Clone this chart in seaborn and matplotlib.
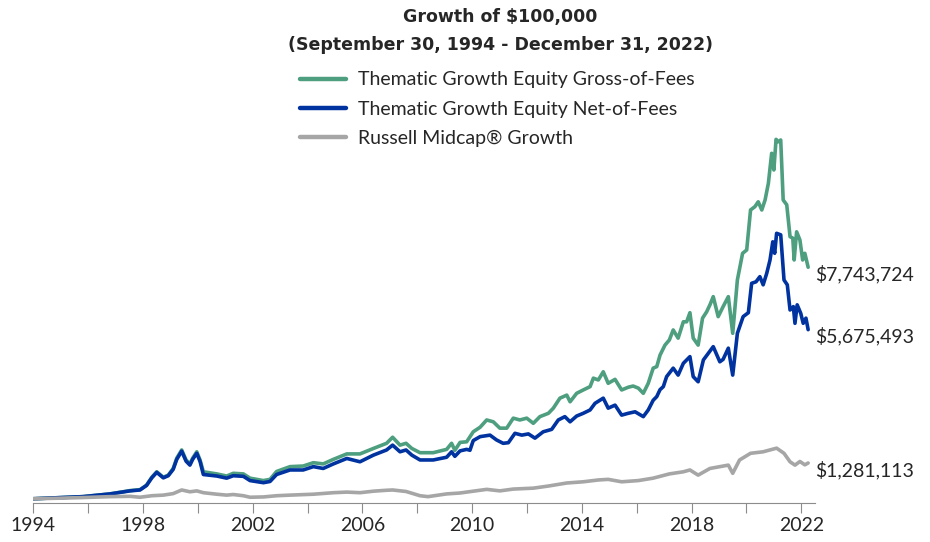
"""Growth of $100,000 chart: thematic growth equity vs Russell Midcap Growth"""

import pandas as pd
import matplotlib
matplotlib.use("Agg")
import matplotlib.pyplot as plt
import seaborn as sns

#####################################################################
# data (decimal year, value in $ millions)

gross_years = [1994.75, 1996.56, 1997.55, 1998.28, 1998.64, 1998.88, 1999.07, 1999.25, 1999.49, 1999.67,
               1999.85, 1999.98, 2000.16, 2000.32, 2000.46, 2000.56, 2000.71, 2000.83, 2000.95, 2001.44,
               2001.80, 2002.04, 2002.41, 2002.65, 2003.14, 2003.38, 2003.62, 2004.11, 2004.59, 2004.96,
               2005.32, 2005.69, 2006.18, 2006.66, 2007.15, 2007.63, 2007.85, 2008.12, 2008.34, 2008.55,
               2008.85, 2009.33, 2009.82, 2010.00, 2010.12, 2010.31, 2010.55, 2010.79, 2011.04, 2011.28,
               2011.52, 2011.76, 2012.01, 2012.25, 2012.49, 2012.74, 2012.98, 2013.22, 2013.53, 2013.71,
               2013.95, 2014.20, 2014.32, 2014.56, 2014.80, 2015.05, 2015.17, 2015.35, 2015.53, 2015.71,
               2015.96, 2016.20, 2016.44, 2016.62, 2016.81, 2016.99, 2017.17, 2017.35, 2017.48, 2017.60,
               2017.78, 2017.94, 2018.08, 2018.26, 2018.45, 2018.57, 2018.69, 2018.81, 2018.99, 2019.15,
               2019.30, 2019.42, 2019.54, 2019.72, 2019.90, 2020.09, 2020.25, 2020.42, 2020.61, 2020.76,
               2020.90, 2021.06, 2021.18, 2021.31, 2021.43, 2021.55, 2021.67, 2021.75, 2021.83, 2021.91,
               2022.00, 2022.09, 2022.22, 2022.34, 2022.44, 2022.49, 2022.58, 2022.70, 2022.80, 2022.88,
               2023.00]
gross_values = [0.10, 0.17, 0.26, 0.37, 0.40, 0.55, 0.81, 0.99, 0.81, 0.88,
                1.10, 1.44, 1.71, 1.38, 1.25, 1.44, 1.65, 1.38, 0.99, 0.92,
                0.85, 0.94, 0.92, 0.78, 0.70, 0.74, 1.00, 1.16, 1.18, 1.29,
                1.25, 1.40, 1.58, 1.58, 1.76, 1.93, 2.13, 1.87, 1.93, 1.76,
                1.62, 1.62, 1.73, 1.93, 1.70, 1.96, 1.98, 2.31, 2.46, 2.70,
                2.64, 2.43, 2.43, 2.76, 2.70, 2.76, 2.59, 2.81, 2.92, 3.09,
                3.42, 3.52, 3.30, 3.58, 3.69, 3.80, 4.08, 4.02, 4.29, 3.91,
                4.04, 3.69, 3.78, 3.82, 3.75, 3.58, 3.91, 4.41, 4.46, 4.84,
                5.17, 5.34, 5.67, 5.40, 5.94, 5.94, 6.24, 5.40, 5.17, 6.06,
                6.27, 6.50, 6.77, 6.11, 6.44, 6.77, 5.56, 7.32, 8.20, 8.31,
                9.63, 9.74, 9.90, 9.63, 9.96, 10.51, 11.50, 10.95, 11.96, 11.88,
                11.94, 9.96, 9.80, 8.75, 8.70, 7.98, 8.91, 8.64, 7.98, 8.20,
                7.74]

net_years = [1994.75, 1996.56, 1997.55, 1998.28, 1998.64, 1998.88, 1999.07, 1999.25, 1999.49, 1999.67,
             1999.85, 1999.98, 2000.16, 2000.32, 2000.46, 2000.56, 2000.71, 2000.83, 2000.95, 2001.44,
             2001.80, 2002.04, 2002.41, 2002.65, 2003.14, 2003.38, 2003.62, 2004.11, 2004.59, 2004.96,
             2005.32, 2005.69, 2006.18, 2006.66, 2007.15, 2007.63, 2007.85, 2008.12, 2008.34, 2008.55,
             2008.85, 2009.33, 2009.82, 2010.00, 2010.12, 2010.31, 2010.55, 2010.67, 2010.79, 2011.04,
             2011.40, 2011.64, 2011.88, 2012.07, 2012.31, 2012.56, 2012.80, 2013.04, 2013.34, 2013.65,
             2013.89, 2014.13, 2014.32, 2014.56, 2014.80, 2015.05, 2015.23, 2015.53, 2015.71, 2015.96,
             2016.20, 2016.44, 2016.69, 2016.99, 2017.17, 2017.35, 2017.48, 2017.60, 2017.72, 2017.84,
             2018.08, 2018.26, 2018.45, 2018.69, 2018.81, 2018.99, 2019.18, 2019.36, 2019.54, 2019.78,
             2019.90, 2020.09, 2020.25, 2020.42, 2020.63, 2020.82, 2020.94, 2021.10, 2021.24, 2021.36,
             2021.49, 2021.61, 2021.71, 2021.78, 2021.85, 2022.00, 2022.12, 2022.24, 2022.34, 2022.46,
             2022.52, 2022.60, 2022.73, 2022.82, 2022.92, 2023.00]
net_values = [0.10, 0.17, 0.26, 0.36, 0.39, 0.54, 0.79, 0.97, 0.79, 0.86,
              1.07, 1.40, 1.67, 1.34, 1.21, 1.40, 1.60, 1.33, 0.90, 0.85,
              0.78, 0.86, 0.84, 0.70, 0.63, 0.67, 0.90, 1.05, 1.05, 1.16,
              1.10, 1.25, 1.43, 1.32, 1.54, 1.71, 1.87, 1.65, 1.71, 1.54,
              1.38, 1.38, 1.47, 1.65, 1.50, 1.68, 1.73, 1.70, 2.02, 2.15,
              2.20, 2.04, 1.93, 1.95, 2.26, 2.20, 2.24, 2.10, 2.31, 2.39,
              2.70, 2.81, 2.64, 2.83, 2.92, 3.03, 3.25, 3.42, 3.09, 3.19,
              2.86, 2.92, 2.97, 2.81, 3.03, 3.35, 3.47, 3.70, 3.80, 4.13,
              4.41, 4.18, 4.57, 4.79, 4.13, 3.96, 4.68, 4.90, 5.12, 4.62,
              4.70, 5.07, 4.18, 5.56, 6.11, 6.24, 7.21, 7.26, 7.43, 7.16,
              7.54, 7.98, 8.58, 8.20, 8.86, 8.81, 7.32, 7.16, 6.33, 6.44,
              5.89, 6.50, 6.22, 5.89, 6.06, 5.68]

russell_years = [1994.75, 1995.75, 1996.56, 1997.55, 1998.28, 1998.64, 1999.07, 1999.49, 1999.85, 2000.16,
                 2000.46, 2000.71, 2000.95, 2001.44, 2001.80, 2002.04, 2002.41, 2002.65, 2003.14, 2003.62,
                 2004.11, 2004.96, 2005.69, 2006.18, 2006.66, 2007.15, 2007.63, 2007.85, 2008.34, 2008.85,
                 2009.14, 2009.82, 2010.31, 2010.79, 2011.28, 2011.76, 2012.25, 2012.98, 2013.53, 2014.20,
                 2014.80, 2015.35, 2015.71, 2016.20, 2016.81, 2017.35, 2017.94, 2018.45, 2018.69, 2018.99,
                 2019.42, 2020.09, 2020.25, 2020.50, 2020.90, 2021.36, 2021.85, 2022.12, 2022.34, 2022.52,
                 2022.70, 2022.88, 2023.00]
russell_values = [0.10, 0.12, 0.14, 0.17, 0.18, 0.15, 0.20, 0.22, 0.27, 0.39,
                  0.33, 0.36, 0.30, 0.25, 0.22, 0.24, 0.20, 0.15, 0.16, 0.20,
                  0.22, 0.25, 0.30, 0.32, 0.30, 0.35, 0.38, 0.39, 0.34, 0.20,
                  0.17, 0.26, 0.29, 0.35, 0.41, 0.36, 0.42, 0.45, 0.52, 0.62,
                  0.66, 0.72, 0.74, 0.66, 0.70, 0.78, 0.92, 0.99, 1.05, 0.88,
                  1.10, 1.21, 0.94, 1.38, 1.60, 1.65, 1.77, 1.60, 1.32, 1.21,
                  1.33, 1.22, 1.28]

series_names = ["Thematic Growth Equity Gross-of-Fees",
                "Thematic Growth Equity Net-of-Fees",
                "Russell Midcap\u00ae Growth"]
end_labels = ["$7,743,724", "$5,675,493", "$1,281,113"]
tick_years = [1994, 1998, 2002, 2006, 2010, 2014, 2018, 2022]

palette = dict(zip(series_names, ["#4E9E80", "#0033A0", "#A6A6A6"]))

#####################################################################
df = pd.concat([
    pd.DataFrame({"year": gross_years, "value": gross_values, "series": series_names[0]}),
    pd.DataFrame({"year": net_years, "value": net_values, "series": series_names[1]}),
    pd.DataFrame({"year": russell_years, "value": russell_values, "series": series_names[2]}),
], ignore_index=True)

sns.set_theme(style="white")
plt.rcParams['font.family'] = ['Lato', 'DejaVu Sans']

fig = plt.figure(figsize=(9.3, 5.42), dpi=100)
ax = fig.add_axes([33.3 / 930, 39 / 542, (815 - 33.3) / 930, 380 / 542])

sns.lineplot(data=df, x="year", y="value", hue="series", hue_order=series_names,
             palette=palette, linewidth=2.6, estimator=None, ax=ax)

ax.set_xlim(1994.75, 2023.25)
ax.set_ylim(-0.04, 12.5)

# ticks every 2 years (anchored at the start date), labels every 4
ax.set_xticks([1994.75 + 2 * i for i in range(15)], minor=True)
ax.set_xticks([y + 0.75 for y in tick_years])
ax.set_xticklabels([str(y) for y in tick_years], fontsize=14)
ax.tick_params(axis='x', which='both', direction='out', length=7, width=0.8,
               color='#8C8C8C', bottom=True, pad=3)
ax.set_yticks([])
ax.set_xlabel("")
ax.set_ylabel("")
for s in ['left', 'top', 'right']:
    ax.spines[s].set_visible(False)
ax.spines['bottom'].set_color('#8C8C8C')
ax.spines['bottom'].set_linewidth(0.8)

# end-of-period values
finals = [gross_values[-1], net_values[-1], russell_values[-1]]
for v, lab in zip(finals, end_labels):
    ax.text(2023.25, v - 0.22, lab, fontsize=14, va='center', ha='left', clip_on=False)

handles, labels = ax.get_legend_handles_labels()
ax.legend(handles, labels, loc='upper left', bbox_to_anchor=(282 / 930, 1 - 54 / 542),
          bbox_transform=fig.transFigure, frameon=False, fontsize=14,
          handlelength=2.4, handletextpad=0.6, labelspacing=0.62)
for line in ax.get_legend().get_lines():
    line.set_linewidth(3.2)

fig.text(500 / 930, 1 - 17 / 542, "Growth of $100,000", ha='center', va='center',
         fontsize=12.5, fontweight='bold', family='DejaVu Sans')
fig.text(500 / 930, 1 - 45 / 542, "(September 30, 1994 - December 31, 2022)", ha='center', va='center',
         fontsize=12.5, fontweight='bold', family='DejaVu Sans')

fig.savefig("out.png", dpi=100)
plt.close()
